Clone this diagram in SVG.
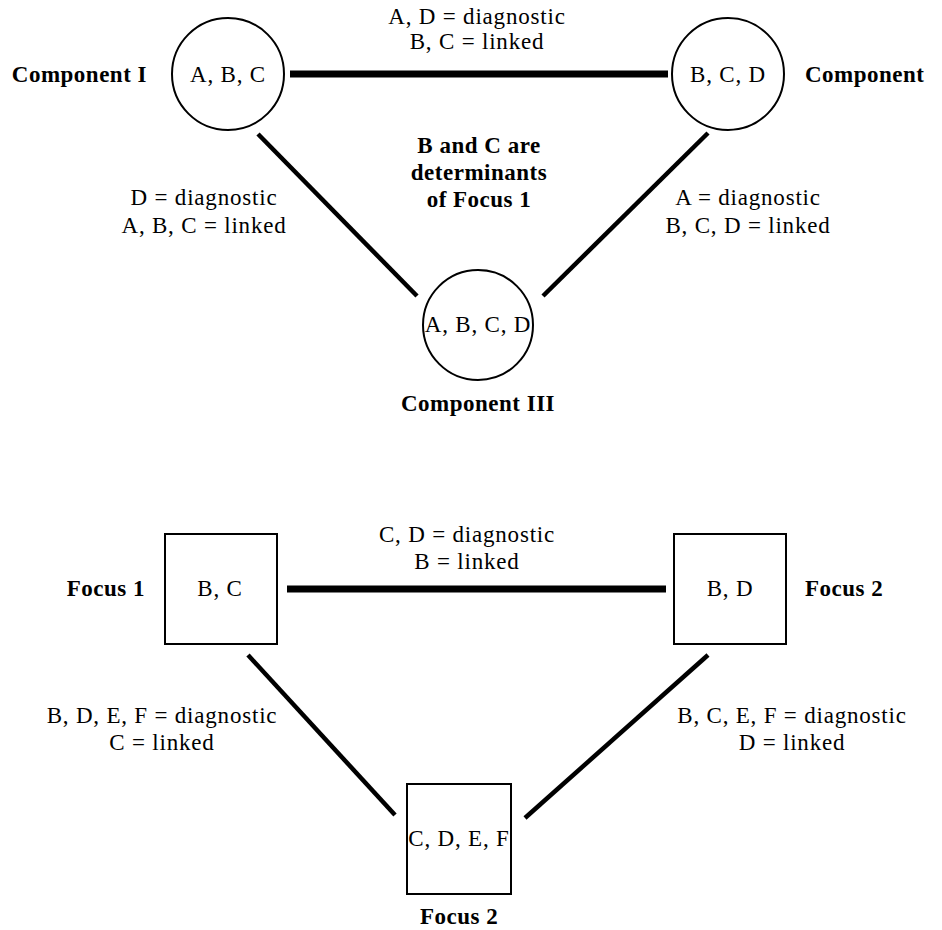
<svg xmlns="http://www.w3.org/2000/svg" width="942" height="930" viewBox="0 0 942 930">
<style>
  text { font-family: "Liberation Serif", "Times New Roman", serif; font-size: 23px; fill: #000; }
  .r { letter-spacing: 0.8px; }
  .b { font-weight: bold; letter-spacing: 0.5px; }
  .m { text-anchor: middle; }
  .e { text-anchor: end; }
  .node { fill: #fff; stroke: #000; stroke-width: 2; }
  .thick { stroke: #000; stroke-width: 7; }
  .diag { stroke: #000; stroke-width: 4.5; }
</style>
<rect width="942" height="930" fill="#fff"/>
<g id="connectors">
  <line class="thick" x1="290" y1="74" x2="668" y2="74"/>
  <line class="diag" x1="258" y1="134" x2="417" y2="296"/>
  <line class="diag" x1="708" y1="133" x2="543" y2="296"/>
  <line class="thick" x1="287" y1="589" x2="666" y2="589"/>
  <line class="diag" x1="248" y1="655" x2="395" y2="815"/>
  <line class="diag" x1="708" y1="655" x2="525" y2="818"/>
</g>
<g id="edge-labels">
  <text class="r m" x="477" y="24">A, D = diagnostic</text>
  <text class="r m" x="477" y="49">B, C = linked</text>
  <text class="r m" x="204" y="205">D = diagnostic</text>
  <text class="r m" x="204" y="233">A, B, C = linked</text>
  <text class="r m" x="748" y="205">A = diagnostic</text>
  <text class="r m" x="748" y="233">B, C, D = linked</text>
  <text class="b m" x="479" y="153">B and C are</text>
  <text class="b m" x="479" y="180">determinants</text>
  <text class="b m" x="479" y="207">of Focus 1</text>
  <text class="r m" x="467" y="542">C, D = diagnostic</text>
  <text class="r m" x="467" y="569">B = linked</text>
  <text class="r m" x="162" y="723">B, D, E, F = diagnostic</text>
  <text class="r m" x="162" y="750">C = linked</text>
  <text class="r m" x="792" y="723">B, C, E, F = diagnostic</text>
  <text class="r m" x="792" y="750">D = linked</text>
</g>
<g id="component-1">
  <circle class="node" cx="228" cy="74" r="56"/>
  <text class="r m" x="228" y="82">A, B, C</text>
  <text class="b e" x="147" y="82">Component I</text>
</g>
<g id="component-2">
  <circle class="node" cx="728" cy="74" r="56"/>
  <text class="r m" x="728" y="82">B, C, D</text>
  <text class="b" x="805" y="82">Component</text>
</g>
<g id="component-3">
  <circle class="node" cx="478" cy="325" r="55"/>
  <text class="r m" x="478" y="332">A, B, C, D</text>
  <text class="b m" x="478" y="411">Component III</text>
</g>
<g id="focus-1">
  <rect class="node" x="165" y="534" width="112" height="110"/>
  <text class="r m" x="220" y="596">B, C</text>
  <text class="b e" x="145" y="596">Focus 1</text>
</g>
<g id="focus-2-right">
  <rect class="node" x="674" y="534" width="112" height="110"/>
  <text class="r m" x="730" y="596">B, D</text>
  <text class="b" x="805" y="596">Focus 2</text>
</g>
<g id="focus-2-bottom">
  <rect class="node" x="407" y="784" width="104" height="110"/>
  <text class="r m" x="459" y="846">C, D, E, F</text>
  <text class="b m" x="459" y="924">Focus 2</text>
</g>
</svg>
